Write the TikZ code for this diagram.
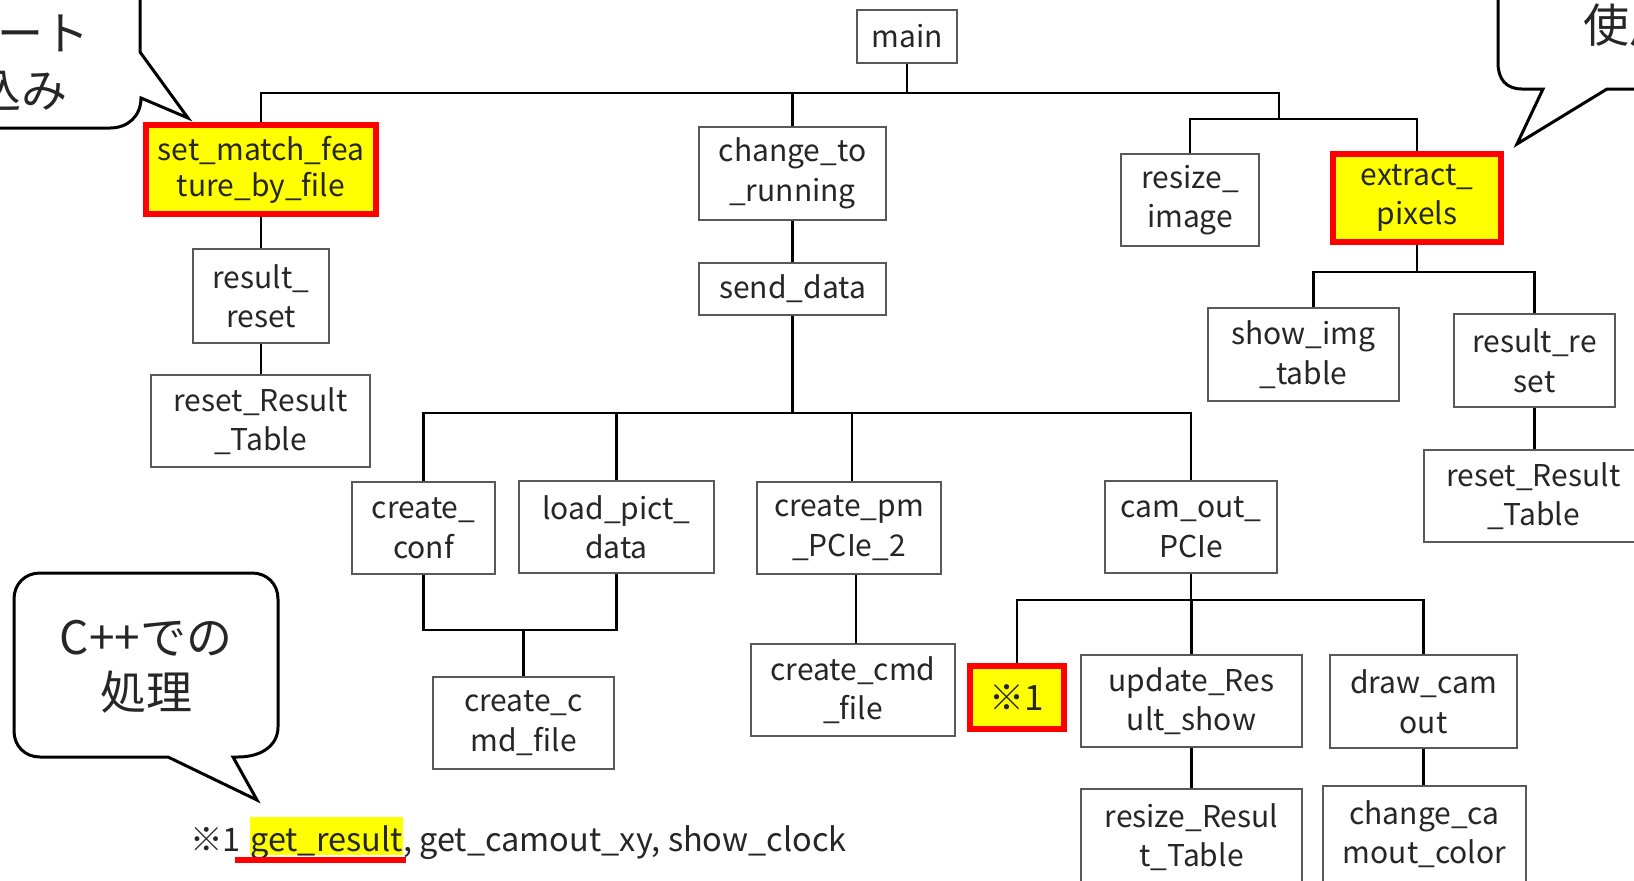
\documentclass[tikz,border=0pt]{standalone}
\usepackage{fontspec}
\setmainfont{Noto Sans CJK JP}
\usetikzlibrary{calc}
\pgfdeclarelayer{bg}
\pgfsetlayers{bg,main}
\definecolor{txt}{HTML}{262626}
\definecolor{hlyellow}{HTML}{FFFF00}
\definecolor{hlred}{HTML}{FF0000}
\definecolor{edge}{HTML}{595959}
\newcommand{\bxfont}{\fontsize{30}{39.5}\selectfont}
\newcommand{\bxtight}{\fontsize{30}{36}\selectfont}
\newcommand{\notefont}{\fontsize{35}{40}\selectfont}
\newcommand{\fnfont}{\fontsize{32.5}{40}\selectfont}
\newcommand{\bbfont}{\fontsize{46}{54}\selectfont}
\begin{document}
\begin{tikzpicture}[x=1pt,y=-1pt,
  box/.style={draw=edge, line width=1.3pt, fill=white, text=txt, align=center,
              inner sep=0pt, font=\bxfont},
  hot/.style={box, draw=hlred, line width=6pt, fill=hlyellow},
  conn/.style={draw=black, line width=2.4pt},
  bubble/.style={draw=black, line width=3pt, line join=miter},
  btext/.style={inner sep=0pt, text=txt, font=\bbfont},
  fn/.style={anchor=base west, inner sep=0pt, text=txt, font=\fnfont}]
\useasboundingbox (0,0) rectangle (1634,881);
\begin{pgfonlayer}{bg}
\fill[white] (0,0) rectangle (1634,881);
\end{pgfonlayer}

% call tree boxes
\node[box,minimum width=100pt,minimum height=53pt] (main) at (907,36.5) {main};
\node[hot,font=\bxtight,minimum width=230pt,minimum height=89pt] (setmatch) at (261,169.5) {set\_match\_fea\\ture\_by\_file};
\node[box,minimum width=187pt,minimum height=93pt] (torun) at (792.5,173.5) {change\_to\\\_running};
\node[box,minimum width=138pt,minimum height=92pt] (rsimg) at (1190,200) {resize\_\\image};
\node[hot,minimum width=168pt,minimum height=88pt] (extract) at (1417,198) {extract\_\\pixels};
\node[box,minimum width=136pt,minimum height=94pt] (rresetL) at (261,296) {result\_\\reset};
\node[box,minimum width=219pt,minimum height=92pt] (rtableL) at (260.5,421) {reset\_Result\\\_Table};
\node[box,minimum width=187pt,minimum height=52pt] (send) at (792.5,289) {send\_data};
\node[box,minimum width=143pt,minimum height=92pt] (conf) at (423.5,528) {create\_\\conf};
\node[box,minimum width=195pt,minimum height=92pt] (pict) at (616.5,527) {load\_pict\_\\data};
\node[box,minimum width=184pt,minimum height=92pt] (pm) at (849,528) {create\_pm\\\_PCIe\_2};
\node[box,minimum width=172pt,minimum height=92pt] (cam) at (1191,527) {cam\_out\_\\PCIe};
\node[box,minimum width=181pt,minimum height=92pt] (cmdL) at (523.5,723) {create\_c\\md\_file};
\node[box,minimum width=204pt,minimum height=92pt] (cmdR) at (853,690) {create\_cmd\\\_file};
\node[hot,font=\notefont,minimum width=94pt,minimum height=63pt] (note) at (1017,697.5) {※1};
\node[box,minimum width=221pt,minimum height=92pt] (upd) at (1191.5,701) {update\_Res\\ult\_show};
\node[box,minimum width=187pt,minimum height=93pt] (drawcam) at (1423.5,701.5) {draw\_cam\\out};
\node[box,minimum width=221pt,minimum height=96pt] (rsRT) at (1191.5,837) {resize\_Resul\\t\_Table};
\node[box,minimum width=203pt,minimum height=96pt] (chcam) at (1424.5,834) {change\_ca\\mout\_color};
\node[box,minimum width=191pt,minimum height=93pt] (showimg) at (1303.5,354.5) {show\_img\\\_table};
\node[box,minimum width=161pt,minimum height=93pt] (rresetR) at (1534.5,360.5) {result\_re\\set};
\node[box,minimum width=219pt,minimum height=92pt] (rtableR) at (1533.5,496) {reset\_Result\\\_Table};

% junctions of the buses
\coordinate (jTop) at (907,93);
\coordinate (jRight) at (1279,119);
\coordinate (jSend) at (792.5,413);
\coordinate (jConf) at (522,630);
\coordinate (jCam) at (1191,600);
\coordinate (jExt) at (1417,272);

\begin{pgfonlayer}{bg}
\draw[conn] (main.south) -- (main.south |- jTop);
\draw[conn] (setmatch.north) -- (setmatch.north |- jTop) -- (jTop -| jRight) -- (jRight);
\draw[conn] (torun.north) -- (torun.north |- jTop);
\draw[conn] (rsimg.north) -- (rsimg.north |- jRight) -- (extract.north |- jRight) -- (extract.north);
\draw[conn] (setmatch.south) -- (setmatch.south |- rresetL.north);
\draw[conn] (rresetL.south) -- (rresetL.south |- rtableL.north);
\draw[conn] (torun.south) -- (torun.south |- send.north);
\draw[conn] (send.south) -- (jSend);
\draw[conn] (conf.north) -- (conf.north |- jSend) -- (jSend -| cam.north) -- (cam.north);
\draw[conn] (pict.north) -- (pict.north |- jSend);
\draw[conn] ($(pm.north)+(3,0)$) -- ({$(pm.north)+(3,0)$} |- jSend);
\draw[conn] (conf.south) -- (conf.south |- jConf) -- (jConf -| pict.south) -- (pict.south);
\draw[conn] (cmdL.north |- jConf) -- (cmdL.north);
\draw[conn] ($(cmdR.north)+(3,0)$) -- ({$(cmdR.north)+(3,0)$} |- pm.south);
\draw[conn] (cam.south) -- (cam.south |- jCam);
\draw[conn] (note.north) -- (note.north |- jCam) -- (jCam -| drawcam.north) -- (drawcam.north);
\draw[conn] (upd.north) -- (upd.north |- jCam);
\draw[conn] (upd.south) -- (upd.south |- rsRT.north);
\draw[conn] (drawcam.south) -- (drawcam.south |- chcam.north);
\draw[conn] (extract.south) -- (extract.south |- jExt);
\draw[conn] ($(showimg.north)+(10,0)$) -- ({$(showimg.north)+(10,0)$} |- jExt) -- (jExt -| rresetR.north) -- (rresetR.north);
\draw[conn] (rresetR.south) -- (rresetR.south |- rtableR.north);
\end{pgfonlayer}

% speech bubbles
\draw[bubble] (140,-10) -- (140,52) -- (188,118) -- (141,98)
  .. controls (141,116) and (128,128) .. (110,128) -- (-10,128);
\node[btext, anchor=base east] (tlA) at (90,50) {ート};
\node[btext, anchor=base east] (tlB) at (68,107) {込み};

\draw[bubble] (1498,-10) -- (1498,63) .. controls (1498,79) and (1506,89) .. (1522,89)
  -- (1543,89) -- (1517,144) -- (1607,89) -- (1650,89);
\node[btext, anchor=base west] (trA) at (1583,42) {使用};

\draw[bubble, fill=white] (40,573) -- (252,573) .. controls (267,573) and (278,584) .. (278,599)
  -- (278,727) .. controls (278,745) and (262,757) .. (238,757)
  -- (233,757) -- (257,800) -- (168,757) -- (40,757)
  .. controls (25,757) and (14,746) .. (14,731) -- (14,599)
  .. controls (14,584) and (25,573) .. (40,573) -- cycle;
\node[btext, anchor=base] (blA) at (146,654) {C++での};
\node[btext, anchor=base] (blB) at (146,709) {処理};

% footnote line
\node[fn] (fnA) at (190,851) {※1\hspace*{9pt}};
\node[fn, fill=hlyellow, text height=34pt, text depth=4pt] (fnB) at (fnA.base east) {get\_result};
\node[fn] (fnC) at (fnB.base east) {, get\_camout\_xy, show\_clock};
\draw[hlred, line width=6pt] ([xshift=-15pt,yshift=-5pt]fnB.south west) -- ([xshift=3pt,yshift=-5pt]fnB.south east);
\end{tikzpicture}
\end{document}
